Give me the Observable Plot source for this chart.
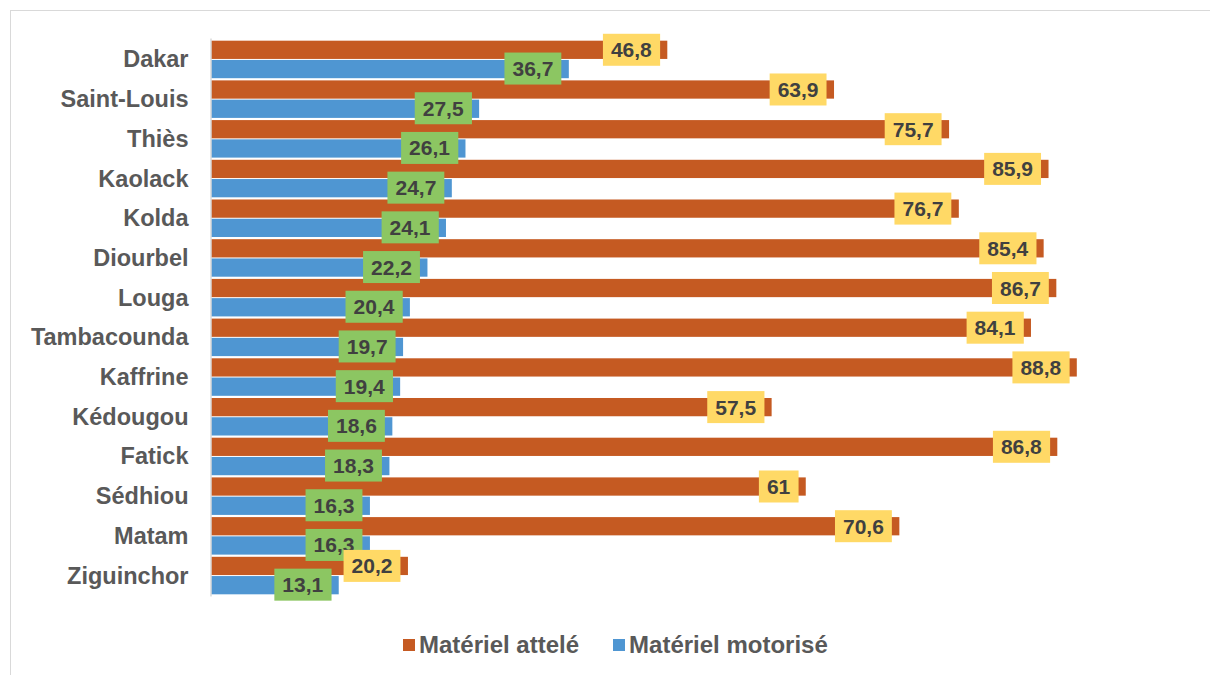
<!DOCTYPE html>
<html>
<head>
<meta charset="utf-8">
<script src="https://cdn.jsdelivr.net/npm/d3@7"></script>
<script src="https://cdn.jsdelivr.net/npm/@observablehq/plot@0.6"></script>
<style>
  html, body { margin: 0; padding: 0; background: #fff; }
  body { width: 1210px; height: 675px; position: relative; overflow: hidden;
         font-family: "Liberation Sans", Arial, sans-serif; }
  #frame { position: absolute; left: 10px; top: 10px; width: 1300px; height: 800px;
           border-top: 1px solid #d9d9d9; border-left: 1px solid #d9d9d9; }
  #chart { position: absolute; left: 0; top: 0; }
  #chart svg { font-family: "Liberation Sans", Arial, sans-serif; overflow: visible; }
  .yax text { fill: #595959; }
  #legend { position: absolute; left: 403px; top: 631px; display: flex; align-items: center;
            font-size: 24px; font-weight: bold; color: #595959; white-space: nowrap; }
  #legend .sw { width: 12px; height: 12px; display: inline-block; margin-right: 4px; }
  #legend .item { display: flex; align-items: center; }
  #legend .item + .item { margin-left: 34px; }
</style>
</head>
<body>
<div id="frame"></div>
<div id="chart"></div>
<div id="legend"></div>
<script>
// Régions, de haut en bas
const regions = ["Dakar", "Saint-Louis", "Thiès", "Kaolack", "Kolda", "Diourbel", "Louga",
  "Tambacounda", "Kaffrine", "Kédougou", "Fatick", "Sédhiou", "Matam", "Ziguinchor"];
// Matériel attelé (%)
const attele = [46.8, 63.9, 75.7, 85.9, 76.7, 85.4, 86.7, 84.1, 88.8, 57.5, 86.8, 61, 70.6, 20.2];
// Matériel motorisé (%)
const motorise = [36.7, 27.5, 26.1, 24.7, 24.1, 22.2, 20.4, 19.7, 19.4, 18.6, 18.3, 16.3, 16.3, 13.1];
const seriesNames = ["Matériel attelé", "Matériel motorisé"];

const colors = { attele: "#c55a22", motorise: "#4f96d2", boxA: "#ffd966", boxM: "#8cc662" };

const W = 1210, H = 610, mt = 38.5, mb = 13.5, ml = 211, mr = 24;
const pad = 0.055;
const step = (H - mt - mb) / (regions.length - pad + 2 * pad);
const half = step * (1 - pad) / 2;

const fmt = v => String(v).replace(".", ",");
const idx = regions.map((_, i) => i);

const chart = Plot.plot({
  width: W, height: H,
  marginTop: mt, marginBottom: mb, marginLeft: ml, marginRight: mr,
  x: { domain: [0, 100], axis: null },
  y: { domain: regions, padding: pad, round: false, axis: null },
  marks: [
    Plot.barX(idx, { x: i => attele[i], y: i => regions[i], fill: colors.attele, insetBottom: half + 0.5 }),
    Plot.barX(idx, { x: i => motorise[i], y: i => regions[i], fill: colors.motorise, insetTop: half + 0.5 }),
    Plot.ruleX([0], { stroke: "#d9d9d9", strokeWidth: 1.5, dx: -0.5 }),
    Plot.axisY({ tickSize: 0, tickPadding: 23, fontSize: 23.5, fontWeight: "bold", label: null, className: "yax" }),
    Plot.text(idx, { x: i => motorise[i], y: i => regions[i], text: i => fmt(motorise[i]),
      textAnchor: "end", dx: -16, dy: half / 2, fontSize: 21, fontWeight: "bold", fill: "#404040", className: "lab-m" }),
    Plot.text(idx, { x: i => attele[i], y: i => regions[i], text: i => fmt(attele[i]),
      textAnchor: "end", dx: -16, dy: -half / 2, fontSize: 21, fontWeight: "bold", fill: "#404040", className: "lab-a" })
  ]
});
document.getElementById("chart").append(chart);

// Fond coloré derrière chaque étiquette de valeur
function boxes(cls, fill) {
  chart.querySelectorAll("." + cls + " text").forEach(t => {
    const b = t.getBBox();
    const r = document.createElementNS("http://www.w3.org/2000/svg", "rect");
    const cy = b.y + b.height / 2;
    r.setAttribute("x", b.x - 8);
    r.setAttribute("width", b.width + 16);
    r.setAttribute("y", cy - 16);
    r.setAttribute("height", 32);
    r.setAttribute("fill", fill);
    const tr = t.getAttribute("transform");
    if (tr) r.setAttribute("transform", tr);
    t.parentNode.insertBefore(r, t);
  });
}
boxes("lab-m", colors.boxM);
boxes("lab-a", colors.boxA);

// Légende
const legend = document.getElementById("legend");
[[seriesNames[0], colors.attele], [seriesNames[1], colors.motorise]].forEach(([name, c]) => {
  const item = document.createElement("div");
  item.className = "item";
  const sw = document.createElement("span");
  sw.className = "sw";
  sw.style.background = c;
  const label = document.createElement("span");
  label.textContent = name;
  item.append(sw, label);
  legend.append(item);
});
</script>
</body>
</html>
